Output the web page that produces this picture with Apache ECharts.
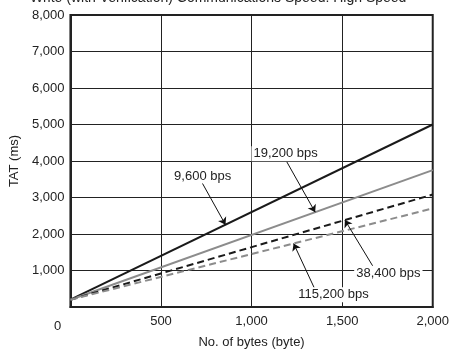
<!DOCTYPE html>
<html>
<head>
<meta charset="utf-8">
<script src="https://cdn.jsdelivr.net/npm/echarts@6/dist/echarts.min.js"></script>
<style>
  html, body { margin: 0; padding: 0; background: #fff; }
  #chart { width: 452px; height: 354px; }
</style>
</head>
<body>
<div id="chart"></div>
<script>
// bytes on x, TAT (ms) on y
var bytes = [0, 2000]
var tat9600 = [200, 5000]
var tat19200 = [200, 3750]
var tat38400 = [200, 3080]
var tat115200 = [200, 2700]

var xTicks = [0, 500, 1000, 1500, 2000]
var yTicks = [0, 1000, 2000, 3000, 4000, 5000, 6000, 7000, 8000]

// callouts: label position, arrow start, arrow tip (data coords)
var callouts = [
  { text: '9,600 bps', label: [730, 3590], from: [725, 3420], to: [856, 2254] },
  { text: '19,200 bps', label: [1188, 4200], from: [1193, 3990], to: [1351, 2598] },
  { text: '38,400 bps', label: [1755, 920], from: [1668, 1130], to: [1515, 2382] },
  { text: '115,200 bps', label: [1452, 333], from: [1351, 470], to: [1232, 1740] }
]

var FONT = "'Liberation Sans', Arial, sans-serif"

function pairs(ys) {
  return bytes.map(function (x, i) { return [x, ys[i]] })
}
function fmt(v) {
  return String(v).replace(/\B(?=(\d{3})+(?!\d))/g, ',')
}

function mkSeries(name, ys, color, dashed, callout) {
  return {
    name: name,
    type: 'line',
    data: pairs(ys),
    symbol: 'none',
    silent: true,
    z: 3,
    lineStyle: { color: color, width: 2, type: dashed ? [7, 4] : 'solid' },
    markLine: {
      silent: true,
      symbol: ['none', 'arrow'],
      symbolSize: 7,
      label: { show: false },
      lineStyle: { color: '#111', width: 1, type: 'solid' },
      data: [[{ coord: callout.from }, { coord: callout.to }]]
    },
    markPoint: {
      silent: true,
      symbol: 'rect',
      symbolSize: 1,
      itemStyle: { color: 'rgba(0,0,0,0)' },
      label: {
        show: true,
        position: 'inside',
        formatter: callout.text,
        color: '#222',
        fontFamily: FONT,
        fontSize: 13,
        backgroundColor: '#fff',
        padding: [1, 2]
      },
      data: [{ coord: callout.label }]
    }
  }
}

var chart = echarts.init(document.getElementById('chart'))
chart.setOption({
  animation: false,
  backgroundColor: '#fff',
  grid: {
    left: 69, right: 16, top: 15, bottom: 40,
    show: true, borderColor: '#222', borderWidth: 2
  },
  xAxis: {
    type: 'value',
    min: xTicks[0], max: xTicks[xTicks.length - 1], interval: 500,
    name: 'No. of bytes (byte)',
    nameLocation: 'middle',
    nameGap: 29,
    nameTextStyle: { color: '#222', fontFamily: FONT, fontSize: 13 },
    axisLine: { show: true, lineStyle: { color: '#222', width: 2 } },
    axisTick: { show: false },
    axisLabel: {
      showMinLabel: false,
      color: '#222', fontFamily: FONT, fontSize: 13, margin: 8,
      formatter: fmt
    },
    splitLine: { show: true, lineStyle: { color: '#222', width: 1 } }
  },
  yAxis: {
    type: 'value',
    min: yTicks[0], max: yTicks[yTicks.length - 1], interval: 1000,
    name: 'TAT (ms)',
    nameLocation: 'middle',
    nameRotate: 90,
    nameGap: 42,
    nameTextStyle: { color: '#222', fontFamily: FONT, fontSize: 13 },
    axisLine: { show: true, lineStyle: { color: '#222', width: 2 } },
    axisTick: { show: false },
    axisLabel: {
      showMinLabel: false,
      color: '#222', fontFamily: FONT, fontSize: 13, margin: 6,
      formatter: fmt
    },
    splitLine: { show: true, lineStyle: { color: '#222', width: 1 } }
  },
  graphic: [
    { type: 'text', left: 0, top: -10, style: { text: '●', fill: '#222', font: '14px ' + FONT } },
    { type: 'text', left: 30, top: -9, style: { text: 'Write (with Verification) Communications Speed: High Speed', fill: '#222', font: '14px ' + FONT } },
    { type: 'text', left: 54, top: 320, style: { text: '0', fill: '#222', font: '13px ' + FONT } }
  ],
  series: [
    mkSeries('9,600 bps', tat9600, '#1a1a1a', false, callouts[0]),
    mkSeries('19,200 bps', tat19200, '#8c8c8c', false, callouts[1]),
    mkSeries('38,400 bps', tat38400, '#1a1a1a', true, callouts[2]),
    mkSeries('115,200 bps', tat115200, '#8c8c8c', true, callouts[3])
  ]
})
</script>
</body>
</html>
